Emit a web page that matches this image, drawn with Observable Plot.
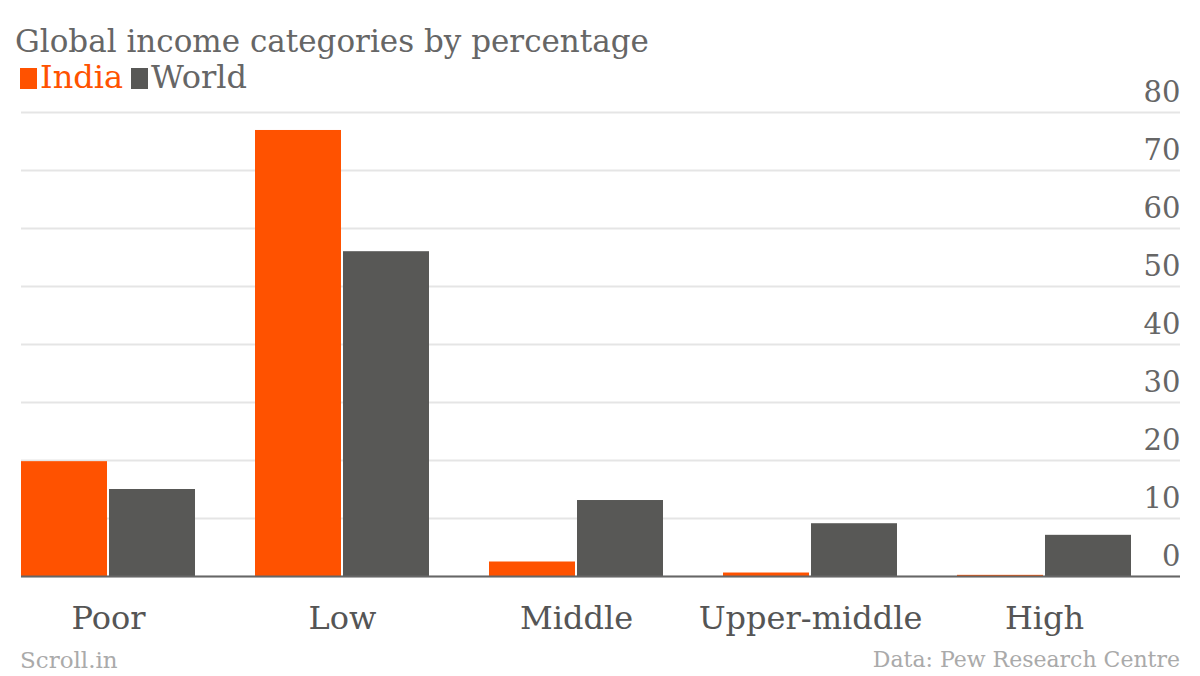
<!DOCTYPE html>
<html>
<head>
<meta charset="utf-8">
<script src="https://cdn.jsdelivr.net/npm/d3@7"></script>
<script src="https://cdn.jsdelivr.net/npm/@observablehq/plot@0.6"></script>
<style>
  html, body { margin: 0; padding: 0; background: #fff; }
  body { width: 1200px; height: 676px; overflow: hidden; font-family: "DejaVu Serif", serif; }
  #header { position: relative; height: 70px; }
  #title { position: absolute; left: 15px; top: 26px; font-size: 31px; color: #666; white-space: nowrap; line-height: 1; }
  #legend { position: absolute; left: 20px; top: 61px; font-size: 32px; line-height: 1; white-space: nowrap; }
  #legend span.sw { display: inline-block; width: 17px; height: 21px; margin-right: 3px; vertical-align: -1px; }
  #footer { position: relative; height: 31px; font-size: 22px; color: #aaa; }
  #footer .l { position: absolute; left: 20px; top: 2px; font-size: 23px; }
  #footer .r { position: absolute; right: 20px; top: 2px; }
  svg { display: block; }
</style>
</head>
<body>
<div id="header">
  <div id="title">Global income categories by percentage</div>
  <div id="legend"></div>
</div>
<div id="chart"></div>
<div id="footer"><span class="l">Scroll.in</span><span class="r">Data: Pew Research Centre</span></div>
<script>
const categories = ["Poor", "Low", "Middle", "Upper-middle", "High"];
const series = ["India", "World"];
const indiaValues = [19.8, 76.9, 2.5, 0.6, 0.2];
const worldValues = [15.0, 56.0, 13.1, 9.1, 7.1];
const yTicks = [0, 10, 20, 30, 40, 50, 60, 70, 80];
const colors = ["#ff5200", "#585856"];

const india = categories.map((c, i) => ({category: c, value: indiaValues[i]}));
const world = categories.map((c, i) => ({category: c, value: worldValues[i]}));

const legend = document.getElementById("legend");
legend.innerHTML = series.map((s, i) =>
  `<span class="sw" style="background:${colors[i]}"></span><span style="color:${i === 0 ? colors[0] : "#666"};margin-right:8px">${s}</span>`
).join("");

const chart = Plot.plot({
  width: 1200,
  height: 575,
  marginTop: 42,
  marginBottom: 69,
  marginLeft: 21,
  marginRight: 20,
  style: {fontFamily: "DejaVu Serif, serif", fontSize: "28px", color: "#666", background: "#fff"},
  x: {domain: categories, paddingInner: 0.2564, paddingOuter: 0.1047, align: 0, round: false, label: null},
  y: {domain: [0, 80], label: null},
  marks: [
    Plot.gridY(yTicks, {stroke: "#e5e5e5", strokeOpacity: 1, strokeWidth: 2}),
    Plot.axisY(yTicks, {anchor: "right", tickSize: 0, tickPadding: 0, textAnchor: "end", dy: -20, fill: "#666", fontSize: 29, label: null}),
    Plot.barY(india, {x: "category", y: "value", fill: colors[0], insetLeft: 0, insetRight: 88}),
    Plot.barY(world, {x: "category", y: "value", fill: colors[1], insetLeft: 88, insetRight: 0}),
    Plot.ruleY([0], {stroke: "#666", strokeWidth: 2}),
    Plot.axisX({tickSize: 0, tickPadding: 30, fill: "#555", fontSize: 32, label: null})
  ]
});
document.getElementById("chart").appendChild(chart);
</script>
</body>
</html>
